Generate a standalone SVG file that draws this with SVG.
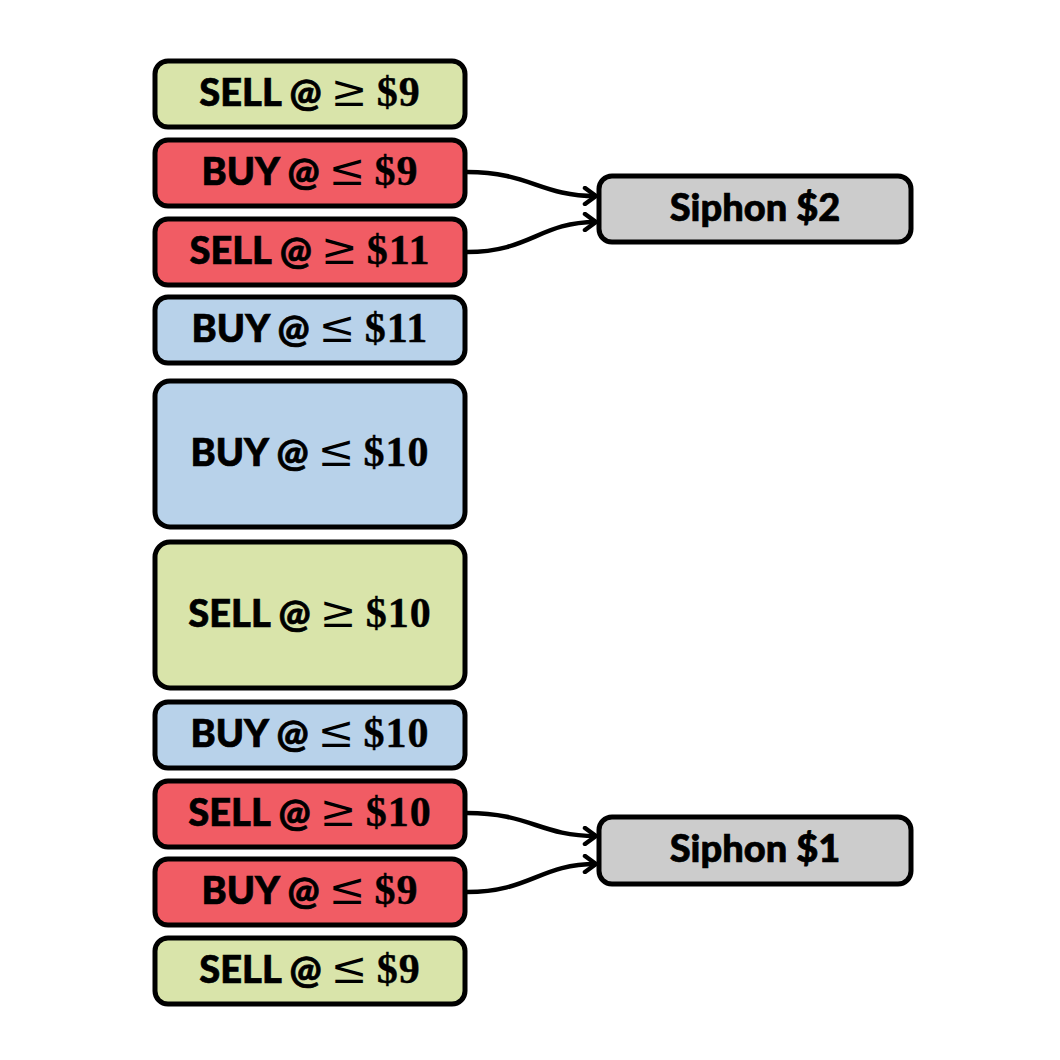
<svg xmlns="http://www.w3.org/2000/svg" width="1060" height="1060" viewBox="0 0 1060 1060">
<style>
.box{stroke:#000;stroke-width:5}
.g{fill:#d9e4aa}.r{fill:#f15c64}.b{fill:#b8d2ea}.s{fill:#cccccc}
.t{font-family:Lato,"Open Sans","Liberation Sans",sans-serif;font-weight:900;font-size:38px;text-anchor:middle;fill:#000;stroke:#000;stroke-width:0.7}
.m{font-family:"Liberation Serif","DejaVu Serif",serif;font-weight:bold;font-size:42px;stroke-width:0.4;letter-spacing:1px}
.op{font-family:"DejaVu Serif",serif;font-weight:normal;font-size:44px;stroke-width:0}
.c{fill:none;stroke:#000;stroke-width:4.5}
</style>
<defs>
<marker id="ah" markerUnits="userSpaceOnUse" markerWidth="20" markerHeight="20" refX="14" refY="10" orient="auto">
<path d="M3,2 L14,10 L3,18" fill="none" stroke="#000" stroke-width="4.5" stroke-linejoin="round" stroke-linecap="round"/>
</marker>
</defs>
<g id="n1"><rect class="box g" x="155" y="61" width="310" height="66" rx="13"/><text class="t" x="310" y="106">SELL @ <tspan class="op">≥</tspan> <tspan class="m">$9</tspan></text></g>
<g id="n2"><rect class="box r" x="155" y="140" width="310" height="66" rx="13"/><text class="t" x="310" y="185">BUY @ <tspan class="op">≤</tspan> <tspan class="m">$9</tspan></text></g>
<g id="n3"><rect class="box r" x="155" y="219" width="310" height="66" rx="13"/><text class="t" x="310" y="264">SELL @ <tspan class="op">≥</tspan> <tspan class="m">$11</tspan></text></g>
<g id="n4"><rect class="box b" x="155" y="297" width="310" height="66" rx="13"/><text class="t" x="310" y="342">BUY @ <tspan class="op">≤</tspan> <tspan class="m">$11</tspan></text></g>
<g id="n5"><rect class="box b" x="155" y="381" width="310" height="146" rx="15"/><text class="t" x="310" y="466">BUY @ <tspan class="op">≤</tspan> <tspan class="m">$10</tspan></text></g>
<g id="n6"><rect class="box g" x="155" y="542" width="310" height="146" rx="15"/><text class="t" x="310" y="627">SELL @ <tspan class="op">≥</tspan> <tspan class="m">$10</tspan></text></g>
<g id="n7"><rect class="box b" x="155" y="702" width="310" height="66" rx="13"/><text class="t" x="310" y="747">BUY @ <tspan class="op">≤</tspan> <tspan class="m">$10</tspan></text></g>
<g id="n8"><rect class="box r" x="155" y="781" width="310" height="66" rx="13"/><text class="t" x="310" y="826">SELL @ <tspan class="op">≥</tspan> <tspan class="m">$10</tspan></text></g>
<g id="n9"><rect class="box r" x="155" y="859" width="310" height="66" rx="13"/><text class="t" x="310" y="904">BUY @ <tspan class="op">≤</tspan> <tspan class="m">$9</tspan></text></g>
<g id="n10"><rect class="box g" x="155" y="938" width="310" height="66" rx="13"/><text class="t" x="310" y="983">SELL @ <tspan class="op">≤</tspan> <tspan class="m">$9</tspan></text></g>
<g id="siphon2"><rect class="box s" x="599" y="176" width="312" height="66" rx="13"/><text class="t" x="755" y="221">Siphon $2</text></g>
<g id="siphon1"><rect class="box s" x="599" y="817" width="312" height="67" rx="13"/><text class="t" x="755" y="862">Siphon $1</text></g>
<g id="connectors">
<path class="c" marker-end="url(#ah)" d="M467,172 C530,172 540,196 596,196"/>
<path class="c" marker-end="url(#ah)" d="M467,252 C530,252 540,222 596,222"/>
<path class="c" marker-end="url(#ah)" d="M467,813 C530,813 540,836 596,836"/>
<path class="c" marker-end="url(#ah)" d="M467,892 C530,892 540,864 596,864"/>
</g>
</svg>
